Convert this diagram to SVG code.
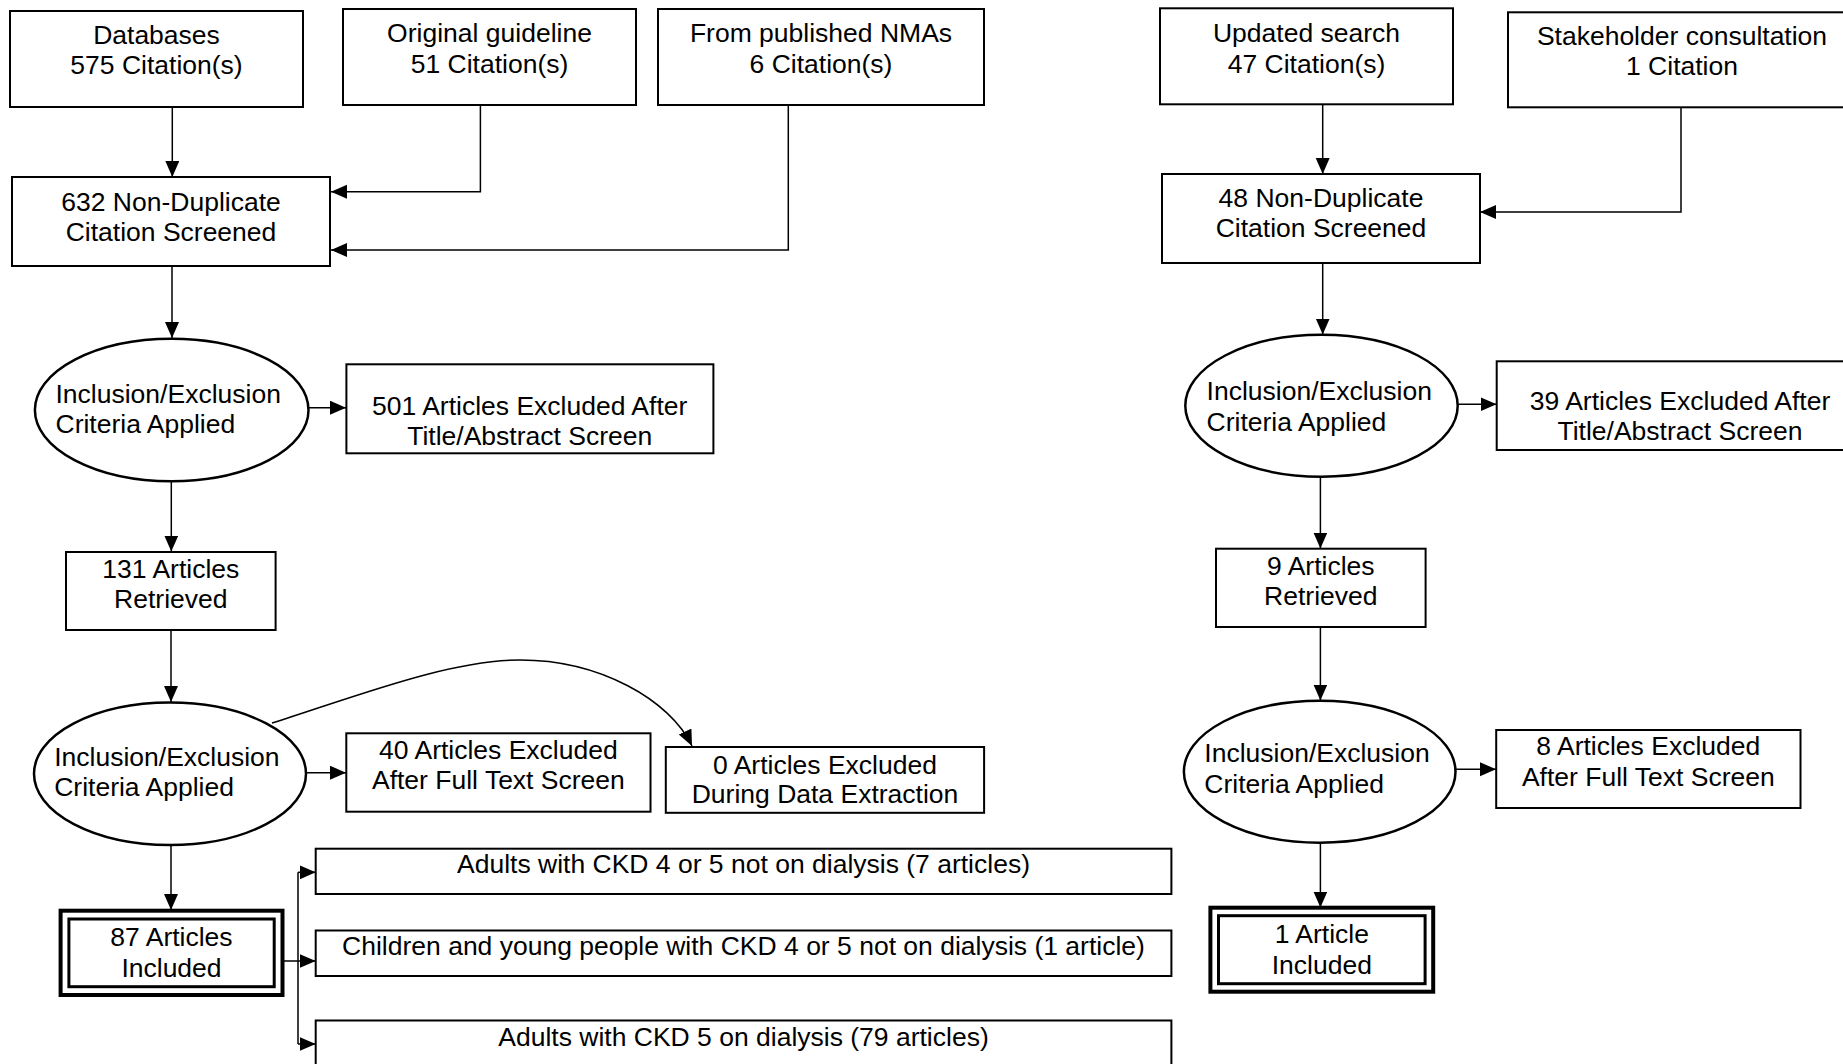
<svg xmlns="http://www.w3.org/2000/svg" width="1843" height="1064" viewBox="0 0 1843 1064">
<defs>
<marker id="ah" markerUnits="userSpaceOnUse" markerWidth="17" markerHeight="15" refX="16" refY="7" orient="auto">
<path d="M0,0 L16,7 L0,14 z" fill="#000"/>
</marker>
<style>
.b{fill:#fff;stroke:#000;stroke-width:2}
.e{fill:#fff;stroke:#000;stroke-width:2.5}
.o{fill:#fff;stroke:#000;stroke-width:4}
.i{fill:none;stroke:#000;stroke-width:3}
.t{font-family:"Liberation Sans",Arial,sans-serif;font-size:26.5px;fill:#000}
.c{text-anchor:middle}
.l{fill:none;stroke:#000;stroke-width:1.5}
.a{marker-end:url(#ah)}
</style>
</defs>
<rect width="1843" height="1064" fill="#fff"/>

<g id="connectors">
<path class="l a" d="M172.3,107 V177"/>
<path class="l a" d="M480.4,105 V191.7 H331"/>
<path class="l a" d="M788.3,105 V250 H331"/>
<path class="l a" d="M172,266 V338"/>
<path class="l a" d="M308.5,407.7 H346"/>
<path class="l a" d="M171.3,481 V551.5"/>
<path class="l a" d="M171,630 V702"/>
<path class="l a" d="M306,772.7 H346"/>
<path class="l a" d="M272,723 C360,695 450,660 520,660 C600,660 670,700 692,746"/>
<path class="l a" d="M171,845 V910"/>
<path class="l" d="M282.5,961 H298 M298,872.3 V1044"/>
<path class="l a" d="M298,872.3 H315.7"/>
<path class="l a" d="M298,961 H315.7"/>
<path class="l a" d="M298,1044 H315.7"/>
<path class="l a" d="M1322.7,104 V174"/>
<path class="l a" d="M1681,107 V212 H1480"/>
<path class="l a" d="M1322.7,263 V334.5"/>
<path class="l a" d="M1457.8,404.3 H1496.5"/>
<path class="l a" d="M1320.4,476.7 V548.5"/>
<path class="l a" d="M1320.4,627 V700.5"/>
<path class="l a" d="M1455.5,769.3 H1496"/>
<path class="l a" d="M1320.4,842.7 V907.5"/>
</g>

<g id="databases">
<rect class="b" x="10" y="11" width="293" height="96"/>
<text class="t c" x="156.5" y="44.3">Databases</text>
<text class="t c" x="156.5" y="74">575 Citation(s)</text>
</g>
<g id="original-guideline">
<rect class="b" x="343" y="9" width="293" height="96"/>
<text class="t c" x="489.5" y="41.7">Original guideline</text>
<text class="t c" x="489.5" y="72.7">51 Citation(s)</text>
</g>
<g id="published-nmas">
<rect class="b" x="658" y="9" width="326" height="96"/>
<text class="t c" x="821" y="41.7">From published NMAs</text>
<text class="t c" x="821" y="72.7">6 Citation(s)</text>
</g>
<g id="screened-632">
<rect class="b" x="12" y="177" width="318" height="89"/>
<text class="t c" x="171" y="211">632 Non-Duplicate</text>
<text class="t c" x="171" y="241">Citation Screened</text>
</g>
<g id="criteria-1">
<ellipse class="e" cx="171.7" cy="410" rx="136.8" ry="71.2"/>
<text class="t" x="55.5" y="402.7">Inclusion/Exclusion</text>
<text class="t" x="55.5" y="432.7">Criteria Applied</text>
</g>
<g id="excluded-501">
<rect class="b" x="346.4" y="364.3" width="367" height="89"/>
<text class="t c" x="529.7" y="415">501 Articles Excluded After</text>
<text class="t c" x="529.7" y="445">Title/Abstract Screen</text>
</g>
<g id="retrieved-131">
<rect class="b" x="66" y="552" width="209.6" height="78"/>
<text class="t c" x="170.8" y="577.7">131 Articles</text>
<text class="t c" x="170.8" y="608.3">Retrieved</text>
</g>
<g id="criteria-2">
<ellipse class="e" cx="170" cy="773.8" rx="136" ry="71.2"/>
<text class="t" x="54.2" y="766">Inclusion/Exclusion</text>
<text class="t" x="54.2" y="795.7">Criteria Applied</text>
</g>
<g id="excluded-40">
<rect class="b" x="346.3" y="733.3" width="304.2" height="78.4"/>
<text class="t c" x="498.4" y="759.3">40 Articles Excluded</text>
<text class="t c" x="498.4" y="789.3">After Full Text Screen</text>
</g>
<g id="excluded-0">
<rect class="b" x="665.8" y="747" width="318.3" height="65.8"/>
<text class="t c" x="825" y="773.5">0 Articles Excluded</text>
<text class="t c" x="825" y="803.3">During Data Extraction</text>
</g>
<g id="included-87">
<rect class="o" x="60.6" y="910.7" width="221.9" height="84.3"/>
<rect class="i" x="68.9" y="919" width="205.3" height="67.7"/>
<text class="t c" x="171.5" y="946">87 Articles</text>
<text class="t c" x="171.5" y="976.7">Included</text>
</g>
<g id="group-adults-ckd45">
<rect class="b" x="315.7" y="848.7" width="855.7" height="45.3"/>
<text class="t c" x="743.5" y="873.3">Adults with CKD 4 or 5 not on dialysis (7 articles)</text>
</g>
<g id="group-children">
<rect class="b" x="315.7" y="930.5" width="855.7" height="45.5"/>
<text class="t c" x="743.5" y="955">Children and young people with CKD 4 or 5 not on dialysis (1 article)</text>
</g>
<g id="group-adults-dialysis">
<rect class="b" x="315.7" y="1020.5" width="855.7" height="60"/>
<text class="t c" x="743.5" y="1046">Adults with CKD 5 on dialysis (79 articles)</text>
</g>

<g id="updated-search">
<rect class="b" x="1160" y="8.3" width="293" height="96"/>
<text class="t c" x="1306.5" y="41.7">Updated search</text>
<text class="t c" x="1306.5" y="72.7">47 Citation(s)</text>
</g>
<g id="stakeholder">
<rect class="b" x="1508" y="12.3" width="360" height="95"/>
<text class="t c" x="1682" y="45">Stakeholder consultation</text>
<text class="t c" x="1682" y="75">1 Citation</text>
</g>
<g id="screened-48">
<rect class="b" x="1162" y="174" width="318" height="89"/>
<text class="t c" x="1321" y="206.7">48 Non-Duplicate</text>
<text class="t c" x="1321" y="236.7">Citation Screened</text>
</g>
<g id="criteria-3">
<ellipse class="e" cx="1321.5" cy="405.7" rx="136.2" ry="71"/>
<text class="t" x="1206.6" y="400">Inclusion/Exclusion</text>
<text class="t" x="1206.6" y="430.7">Criteria Applied</text>
</g>
<g id="excluded-39">
<rect class="b" x="1496.7" y="361.3" width="370" height="88.7"/>
<text class="t c" x="1680" y="410">39 Articles Excluded After</text>
<text class="t c" x="1680" y="440">Title/Abstract Screen</text>
</g>
<g id="retrieved-9">
<rect class="b" x="1216" y="548.7" width="209.6" height="78.3"/>
<text class="t c" x="1320.8" y="575">9 Articles</text>
<text class="t c" x="1320.8" y="605">Retrieved</text>
</g>
<g id="criteria-4">
<ellipse class="e" cx="1319.7" cy="771.7" rx="135.8" ry="71"/>
<text class="t" x="1204.3" y="761.7">Inclusion/Exclusion</text>
<text class="t" x="1204.3" y="792.7">Criteria Applied</text>
</g>
<g id="excluded-8">
<rect class="b" x="1496.2" y="730" width="304.3" height="78"/>
<text class="t c" x="1648.3" y="755">8 Articles Excluded</text>
<text class="t c" x="1648.3" y="786">After Full Text Screen</text>
</g>
<g id="included-1">
<rect class="o" x="1210.4" y="907.7" width="222.8" height="84"/>
<rect class="i" x="1218.5" y="915.7" width="206.6" height="68"/>
<text class="t c" x="1321.8" y="943.3">1 Article</text>
<text class="t c" x="1321.8" y="974">Included</text>
</g>
</svg>
